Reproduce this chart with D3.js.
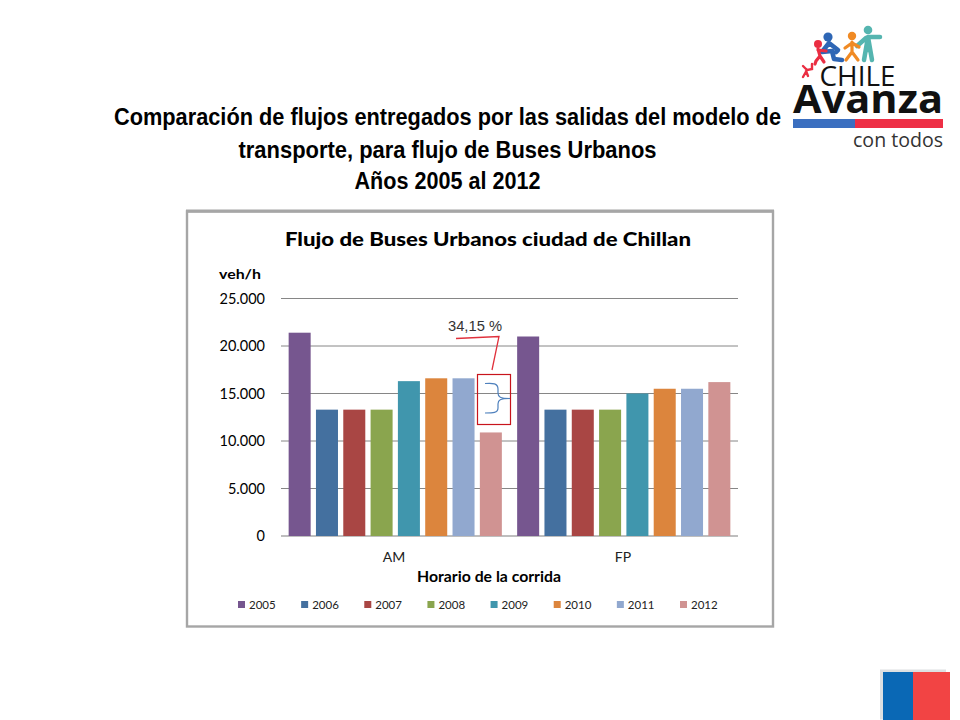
<!DOCTYPE html>
<html><head><meta charset="utf-8">
<script src="https://cdn.jsdelivr.net/npm/d3@7/dist/d3.min.js"></script>
<style>html,body{margin:0;padding:0;background:#fff}svg{display:block}</style>
</head><body><svg id="c" width="960" height="720"></svg>
<script>
const groups = ["AM","FP"];
const years = ["2005","2006","2007","2008","2009","2010","2011","2012"];
const amValues = [21400,13300,13300,13300,16300,16600,16600,10900];
const fpValues = [21000,13300,13300,13300,15000,15500,15500,16200];
const yearColors = ["#76568f","#44709f","#a94644","#8aa54e","#4096ad","#dc853d","#91a8cf","#d09392"];
const yTicks = [0,5000,10000,15000,20000,25000];
const titleLines = ["Comparación de flujos entregados por las salidas del modelo de","transporte, para flujo de Buses Urbanos","Años 2005 al 2012"];

const svg = d3.select("#c");
const sans = "'Liberation Sans',Arial,sans-serif", cal = "Lato,'Open Sans',sans-serif";
function txt(x,y,s,size,opts={}){
  const t = svg.append("text").attr("x",x).attr("y",y).text(s)
    .attr("font-family",opts.font||cal).attr("font-size",size)
    .attr("font-weight",opts.weight||"normal").attr("fill",opts.fill||"#000")
    .attr("text-anchor",opts.anchor||"middle");
  if(opts.len) t.attr("textLength",opts.len).attr("lengthAdjust","spacingAndGlyphs");
  return t;
}
// slide title
[[447.5,125,667],[447.5,158,418],[447.5,189,186]].forEach((p,i)=>
  txt(p[0],p[1],titleLines[i],23,{font:sans,weight:"bold",len:p[2]}));

// chart frame
svg.append("rect").attr("x",187).attr("y",211.5).attr("width",586).attr("height",415)
  .attr("fill","#fff").attr("stroke","#a6a6a6").attr("stroke-width",2.4);
svg.append("line").attr("x1",186).attr("x2",774).attr("y1",211).attr("y2",211).attr("stroke","#a6a6a6").attr("stroke-width",3);
txt(488,246,"Flujo de Buses Urbanos ciudad de Chillan",19,{weight:"900",len:406});
txt(240,279,"veh/h",14,{weight:"bold",len:42});

// scales
const x0 = d3.scaleBand().domain(groups).range([281,738]);
const x1 = d3.scaleBand().domain(years).range([0,x0.bandwidth()]).paddingInner(0.194).paddingOuter(0.28);
const y = d3.scaleLinear().domain([0,25000]).range([536,298.5]);

// gridlines
svg.append("g").selectAll("line").data(yTicks).join("line")
  .attr("x1",281).attr("x2",738).attr("y1",d=>y(d)).attr("y2",d=>y(d))
  .attr("stroke",d=>d===0?"#a8a8a8":"#868686").attr("stroke-width",d=>d===0?1.6:1);
// y tick labels
svg.append("g").selectAll("text").data(yTicks).join("text")
  .attr("x",265).attr("y",d=>y(d)+5).attr("text-anchor","end")
  .attr("font-family",cal).attr("font-size",14.5).attr("fill","#000")
  .text(d=>d===0?"0":d3.format(",")(d).replace(",","."));

// bars
const series = {AM:amValues,FP:fpValues};
groups.forEach(g=>{
  svg.append("g").selectAll("rect").data(series[g]).join("rect")
    .attr("x",(d,i)=>x0(g)+x1(years[i])).attr("width",x1.bandwidth())
    .attr("y",d=>y(d)).attr("height",d=>y(0)-y(d))
    .attr("fill",(d,i)=>yearColors[i]);
});
txt(394,562,"AM",14,{fill:"#222"});
txt(623,562,"FP",14,{fill:"#222"});
txt(489,582,"Horario de la corrida",14.5,{weight:"bold",len:144});

// legend
const legendX = d3.scalePoint().domain(years).range([238,680]);
years.forEach((yr,i)=>{
  const lx = legendX(yr);
  svg.append("rect").attr("x",lx).attr("y",601).attr("width",7).attr("height",7).attr("fill",yearColors[i]);
  txt(lx+11,608.5,yr,11.5,{anchor:"start",fill:"#222"});
});

// annotation
txt(475,331,"34,15 %",14,{font:sans,fill:"#333",len:54});
svg.append("polyline").attr("points","456,338.5 499,336.5 492,370").attr("fill","none").attr("stroke","#e0313c").attr("stroke-width",1.3);
svg.append("rect").attr("x",477.5).attr("y",374.5).attr("width",33).attr("height",50).attr("fill","none").attr("stroke","#c8141c").attr("stroke-width",1.2);
svg.append("path").attr("d","M485,383.5 C493,383 498,383 498,389 L498,393 C498,397 500,398.5 510,398.5 C500,398.5 498,400 498,404 L498,408 C498,413 493,413 485,413")
  .attr("fill","none").attr("stroke","#4f81bd").attr("stroke-width",1.2);

// logo
const logo = svg.append("g");
const person = (hx,hy,r,c,d,w)=>{
  logo.append("circle").attr("cx",hx).attr("cy",hy).attr("r",r).attr("fill",c);
  logo.append("path").attr("d",d).attr("fill","none").attr("stroke",c).attr("stroke-width",w).attr("stroke-linecap","round").attr("stroke-linejoin","round");
};
person(868,30,4.3,"#55b5b0","M868,37 L864,60 M868,37 L872,60 M866,38 L857,46 M869,37 L880,37 M868,38 L868,50",4.5);
person(852,36,4.2,"#f08a24","M852,42 L852,52 L846,60 M852,52 L858,60 M852,43 L845,48 M852,43 L859,47",3.2);
person(828,37,4.6,"#2e66b5","M829,43 L822,52 L832,51 L834,59 L842,60 M829,43 L838,50 L836,52",4.6);
person(818,44,4,"#ea2e42","M818,49 L820,56 L816,61 L815,64 M820,56 L824,62 M818,50 L826,51",3.2);
logo.append("path").attr("d","M803,77 L807,70 L812,69 L812,64 M807,70 L803,66 M806,71 L808,76")
  .attr("fill","none").attr("stroke","#ea2e42").attr("stroke-width",2.4).attr("stroke-linecap","round");
txt(857.5,86,"CHILE",28,{font:"'Open Sans',sans-serif",len:76,fill:"#111"});
txt(868,113,"Avanza",39,{font:"'Open Sans',sans-serif",weight:"bold",len:150,fill:"#111"});
logo.append("rect").attr("x",793).attr("y",119).attr("width",62).attr("height",9).attr("fill","#3b6fc0");
logo.append("rect").attr("x",855).attr("y",119).attr("width",88).attr("height",9).attr("fill","#ee2f45");
txt(898,147,"con todos",20,{font:"'Open Sans',sans-serif",len:90,fill:"#333"});

// corner emblem
svg.append("rect").attr("x",880).attr("y",669.5).attr("width",66).attr("height",50).attr("fill","#dde0e2");
svg.append("rect").attr("x",883).attr("y",672).attr("width",31).attr("height",48).attr("fill","#0a68b5");
svg.append("rect").attr("x",913).attr("y",672).attr("width",37).attr("height",48).attr("fill","#f24444");
</script></body></html>
